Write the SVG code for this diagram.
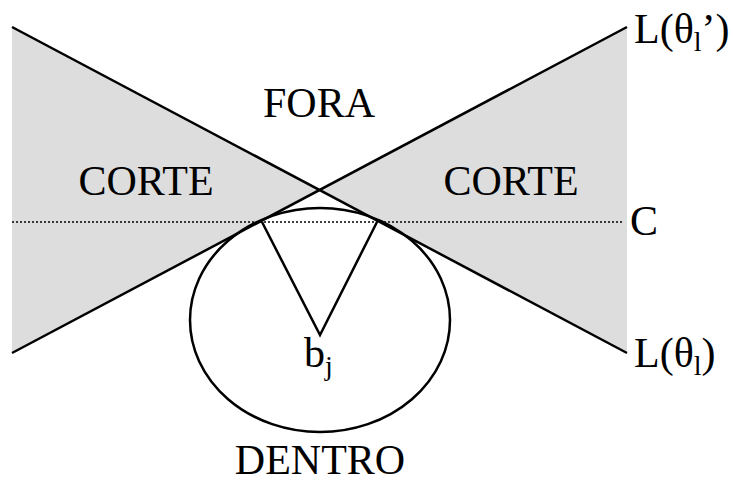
<svg xmlns="http://www.w3.org/2000/svg" width="733" height="484" viewBox="0 0 733 484">
<style>
.t{font-family:"Liberation Serif","Times New Roman",serif;font-size:42px;fill:#000}
.ln{stroke:#000;stroke-width:2.5;fill:none}
.g{fill:#dddddd;stroke:none}
</style>
<rect width="733" height="484" fill="#fff"/>
<g id="regions">
<polygon class="g" points="12,27 319.5,190 12,353"/>
<polygon class="g" points="319.5,190 627,27 627,353"/>
</g>
<g id="connectors">
<line class="ln" x1="12" y1="27" x2="627" y2="353"/>
<line class="ln" x1="12" y1="353" x2="627" y2="27"/>
<line x1="12" y1="222" x2="624" y2="222" stroke="#000" stroke-width="1.6" stroke-dasharray="2 2"/>
<polyline class="ln" points="262,222 320,335 377,222"/>
</g>
<g id="circle">
<ellipse class="ln" cx="320" cy="320" rx="130" ry="112"/>
</g>
<g id="labels">
<text class="t" x="319" y="117" text-anchor="middle">FORA</text>
<text class="t" x="146" y="195" text-anchor="middle">CORTE</text>
<text class="t" x="511" y="195" text-anchor="middle">CORTE</text>
<text class="t" x="630" y="235">C</text>
<text class="t" x="634" y="43">L(θ<tspan font-size="28" dy="8">l</tspan><tspan dy="-8">’)</tspan></text>
<text class="t" x="634" y="367">L(θ<tspan font-size="28" dy="8">l</tspan><tspan dy="-8">)</tspan></text>
<text class="t" x="304" y="367">b<tspan font-size="28" dy="8">j</tspan></text>
<text class="t" x="320" y="474" text-anchor="middle">DENTRO</text>
</g>
</svg>
